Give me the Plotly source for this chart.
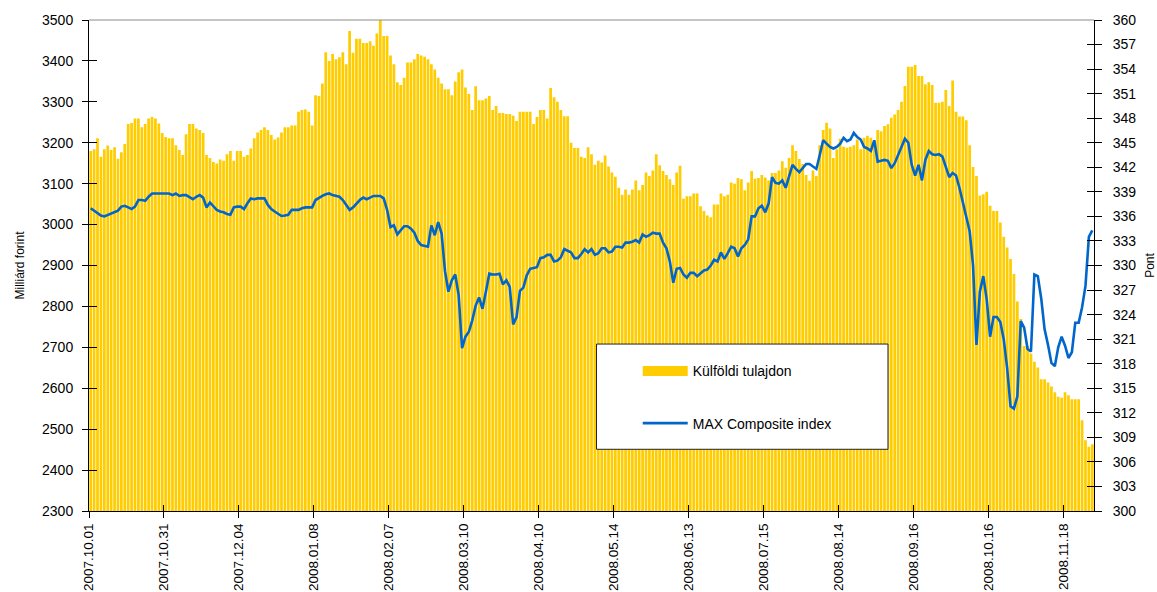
import plotly.graph_objects as go

# ---- data -------------------------------------------------------------
tick_labels = ["2007.10.01", "2007.10.31", "2007.12.04", "2008.01.08", "2008.02.07",
               "2008.03.10", "2008.04.10", "2008.05.14", "2008.06.13", "2008.07.15",
               "2008.08.14", "2008.09.16", "2008.10.16", "2008.11.18"]
tick_every = 22  # trading days between labelled dates

# Külföldi tulajdon (Milliárd forint), one value per trading day
foreign_holdings = [
    3180, 3184, 3211, 3166, 3184, 3193, 3182, 3189, 3161, 3177,
    3197, 3246, 3248, 3259, 3259, 3238, 3246, 3259, 3263, 3259,
    3247, 3224, 3214, 3211, 3211, 3194, 3182, 3170, 3221, 3246,
    3246, 3235, 3231, 3224, 3170, 3163, 3153, 3149, 3159, 3156,
    3172, 3180, 3156, 3180, 3180, 3166, 3170, 3186, 3211, 3225,
    3231, 3238, 3231, 3219, 3208, 3213, 3225, 3238, 3238,
    3242, 3242, 3276, 3280, 3281, 3276, 3242, 3316, 3314, 3345,
    3421, 3400, 3417, 3404, 3409, 3421, 3392, 3473, 3420, 3454,
    3454, 3444, 3444, 3448, 3437, 3467, 3500, 3461, 3461, 3413,
    3392, 3348, 3341, 3359, 3396, 3396, 3404, 3417, 3413, 3410,
    3404, 3392, 3379, 3359, 3345, 3331, 3331, 3316, 3350, 3372,
    3379, 3335, 3319, 3280, 3338, 3304, 3304, 3308, 3314, 3280,
    3290, 3273, 3273, 3270, 3270, 3266, 3253, 3276, 3276,
    3276, 3276, 3246, 3263, 3280, 3280, 3259, 3334, 3311, 3300,
    3280, 3265, 3265, 3200, 3187, 3187, 3166, 3163, 3189, 3172,
    3146, 3156, 3152, 3169, 3142, 3127, 3117, 3090, 3073, 3086,
    3073, 3086, 3108, 3084, 3097, 3127, 3119, 3132, 3172, 3145,
    3131, 3121, 3111, 3097, 3127, 3144, 3063, 3069, 3069, 3076,
    3076, 3045, 3033, 3022, 3018, 3049, 3049, 3076, 3069, 3073,
    3103, 3100, 3114, 3111, 3084, 3103, 3131, 3112, 3114, 3121,
    3115, 3108, 3126, 3126, 3132, 3155, 3139, 3163, 3194, 3180,
    3160, 3148, 3121, 3107, 3132, 3119, 3194, 3231, 3249, 3235,
    3163, 3184, 3210, 3190, 3188, 3190, 3194, 3208, 3184,
    3212, 3217, 3212, 3206, 3231, 3228, 3241, 3245, 3261, 3269,
    3280, 3300, 3339, 3386, 3386, 3390, 3363, 3363, 3343, 3348,
    3341, 3298, 3298, 3300, 3329, 3290, 3352, 3276, 3264, 3264,
    3255, 3194, 3141, 3119, 3071, 3074, 3080, 3046, 3033, 3033,
    3005, 2970, 2944, 2916, 2879, 2812, 2769, 2703, 2703, 2685,
    2665, 2651, 2622, 2622, 2614, 2604, 2590, 2579, 2577, 2590,
    2583, 2573, 2573, 2573, 2522, 2473, 2457, 2463,
]

# MAX Composite index (Pont)
max_index = [
    337.0, 336.7, 336.4, 336.1, 336.0, 336.2, 336.4, 336.6, 336.7, 337.2,
    337.3, 337.1, 336.9, 337.2, 338.0, 338.0, 337.9, 338.4, 338.8, 338.8,
    338.8, 338.8, 338.8, 338.8, 338.6, 338.8, 338.5, 338.6, 338.6, 338.4,
    338.1, 338.4, 338.6, 338.3, 337.1, 337.7, 337.2, 336.8, 336.6, 336.5,
    336.3, 336.2, 337.1, 337.2, 337.2, 336.9, 337.6, 338.2, 338.1, 338.2,
    338.2, 338.2, 337.4, 336.9, 336.6, 336.3, 336.05, 336.1, 336.2,
    336.8, 336.8, 336.8, 337.0, 337.1, 337.1, 337.1, 338.0, 338.3, 338.5,
    338.7, 338.8, 338.6, 338.5, 338.4, 338.0, 337.4, 336.8, 337.1, 337.6,
    338.0, 338.3, 338.1, 338.3, 338.5, 338.5, 338.5, 338.2, 336.8, 334.7,
    334.9, 333.8, 334.3, 334.8, 334.8, 334.5, 334.0, 333.0, 332.5, 332.4,
    332.3, 334.9, 333.7, 335.3, 333.9, 329.3, 326.8, 328.2, 328.9, 326.4,
    319.9, 321.3, 321.9, 323.3, 325.1, 326.1, 324.7, 326.8, 329.0, 328.9,
    328.9, 329.0, 327.7, 328.2, 327.4, 322.8, 323.7, 326.9, 327.3,
    328.8, 329.6, 329.7, 329.8, 330.9, 331.0, 331.3, 331.3, 330.5, 330.6,
    331.0, 332.0, 331.8, 331.6, 330.9, 330.9, 331.4, 332.0, 331.6, 332.0,
    331.3, 331.5, 332.1, 332.1, 331.6, 331.7, 332.3, 332.3, 332.2, 332.8,
    332.8, 332.9, 333.1, 332.8, 333.8, 333.5, 333.7, 334.0, 333.9, 333.9,
    332.8, 332.1, 330.5, 327.9, 329.6, 329.7, 328.9, 328.5, 329.1, 329.1,
    328.7, 329.0, 329.4, 329.5, 330.0, 330.7, 330.5, 331.6, 330.8, 331.5,
    332.3, 332.1, 331.1, 332.1, 332.5, 333.2, 336.0, 336.0, 337.0, 337.3,
    336.5, 337.6, 340.8, 340.1, 340.0, 340.4, 339.5, 340.9, 342.3, 341.8,
    341.4, 341.9, 342.4, 342.4, 342.1, 341.8, 343.5, 345.3, 344.9, 344.5,
    344.3, 344.5, 344.9, 345.6, 345.2, 345.4, 346.2, 345.7, 345.4,
    344.5, 344.3, 344.0, 345.3, 342.7, 342.8, 342.9, 342.8, 341.9, 342.5,
    343.5, 344.3, 345.5, 345.0, 342.3, 341.0, 342.3, 340.4, 342.9, 344.0,
    343.6, 343.5, 343.6, 343.3, 342.0, 340.8, 341.3, 341.0, 339.5, 337.6,
    336.0, 334.2, 330.0, 320.3, 326.8, 328.7, 325.9, 321.3, 323.7, 323.7,
    323.1, 321.0, 317.5, 312.8, 312.5, 314.0, 323.2, 322.4, 319.8, 319.5,
    328.9, 328.7, 326.0, 322.2, 320.3, 318.1, 317.7, 320.0, 321.3, 320.2,
    318.7, 319.4, 323.0, 323.0, 324.9, 327.5, 333.5, 334.3,
]

# ---- figure -----------------------------------------------------------
n = len(foreign_holdings)
days = list(range(n))
tick_pos = [k * tick_every - 0.5 for k in range(len(tick_labels))]

FONT = "Liberation Sans, Arial, sans-serif"
BAR_COLOR = "#FFCC00"
LINE_COLOR = "#0066CC"

fig = go.Figure()
fig.add_trace(go.Bar(
    x=days, y=foreign_holdings, name="Külföldi tulajdon",
    marker=dict(color=BAR_COLOR, line=dict(width=0)),
    showlegend=False, yaxis="y", hoverinfo="y"))
# legend entry for the bars drawn as a wide swatch
fig.add_trace(go.Scatter(
    x=[None], y=[None], name="Külföldi tulajdon", mode="lines",
    line=dict(color=BAR_COLOR, width=10), legendgroup="a", hoverinfo="skip"))
fig.add_trace(go.Scatter(
    x=days, y=max_index, name="MAX Composite index", mode="lines",
    line=dict(color=LINE_COLOR, width=2.6), legendgroup="b", yaxis="y2"))
# empty helper traces so the inner-tick overlay axes are created
fig.add_trace(go.Scatter(x=[], y=[], xaxis="x2", yaxis="y3", showlegend=False, hoverinfo="skip"))
fig.add_trace(go.Scatter(x=[], y=[], xaxis="x", yaxis="y4", showlegend=False, hoverinfo="skip"))

xr = [-0.5, n - 0.5]
common_tick = dict(tickcolor="black", tickwidth=1)

fig.update_layout(
    width=1157, height=592,
    margin=dict(l=89, r=63, t=20, b=81, autoexpand=False),
    paper_bgcolor="white", plot_bgcolor="white",
    font=dict(family=FONT, size=14, color="black"),
    bargap=0.2,
    showlegend=True,
    legend=dict(x=0.546, y=0.317, xanchor="left", yanchor="top",
                bgcolor="rgba(0,0,0,0)", borderwidth=0,
                traceorder="grouped", tracegroupgap=31,
                itemwidth=45, font=dict(family=FONT, size=14, color="black")),
    xaxis=dict(range=xr, tickmode="array", tickvals=tick_pos, ticktext=tick_labels,
               tickangle=-90, ticks="outside", ticklen=6, showline=True,
               linecolor="black", linewidth=1, showgrid=False, zeroline=False,
               automargin=False, ticklabelstandoff=0,
               tickfont=dict(size=13.5), **common_tick),
    xaxis2=dict(range=xr, overlaying="x", anchor="y", tickmode="array", tickvals=tick_pos,
                ticks="inside", ticklen=6, showticklabels=False, showline=False,
                showgrid=False, zeroline=False, automargin=False, **common_tick),
    yaxis=dict(range=[2300, 3500], dtick=100, ticks="outside", ticklen=6,
               showline=True, linecolor="black", linewidth=1, showgrid=False,
               zeroline=False, tickfont=dict(size=14), ticklabelstandoff=6,
               automargin=False,
               title=dict(text="Milliárd forint", font=dict(size=12), standoff=14),
               **common_tick),
    yaxis3=dict(range=[2300, 3500], dtick=100, overlaying="y", anchor="x", side="left",
                ticks="inside", ticklen=8, showticklabels=False, showline=False,
                showgrid=False, zeroline=False, automargin=False, **common_tick),
    yaxis2=dict(range=[300, 360], dtick=3, overlaying="y", side="right", anchor="x",
                ticks="outside", ticklen=7, showline=True, linecolor="black",
                linewidth=1, showgrid=False, zeroline=False, tickfont=dict(size=14),
                ticklabelstandoff=8, automargin=False,
                title=dict(text="Pont", font=dict(size=12), standoff=14),
                **common_tick),
    yaxis4=dict(range=[300, 360], dtick=3, overlaying="y", side="right", anchor="x",
                ticks="inside", ticklen=7, showticklabels=False, showline=False,
                showgrid=False, zeroline=False, automargin=False, **common_tick),
    shapes=[
        # grey top frame line of the plot area
        dict(type="line", xref="paper", yref="paper", x0=0, x1=1, y0=1, y1=1,
             line=dict(color="#8c8c8c", width=1)),
        # legend box
        dict(type="rect", xref="paper", yref="paper", x0=0.505, x1=0.795,
             y0=0.1257, y1=0.340, fillcolor="white",
             line=dict(color="#222222", width=1), layer="above"),
    ],
)

fig.write_html("out.html", config={"displayModeBar": False},
               post_script="document.body.style.margin='0';document.body.style.overflow='hidden';")
